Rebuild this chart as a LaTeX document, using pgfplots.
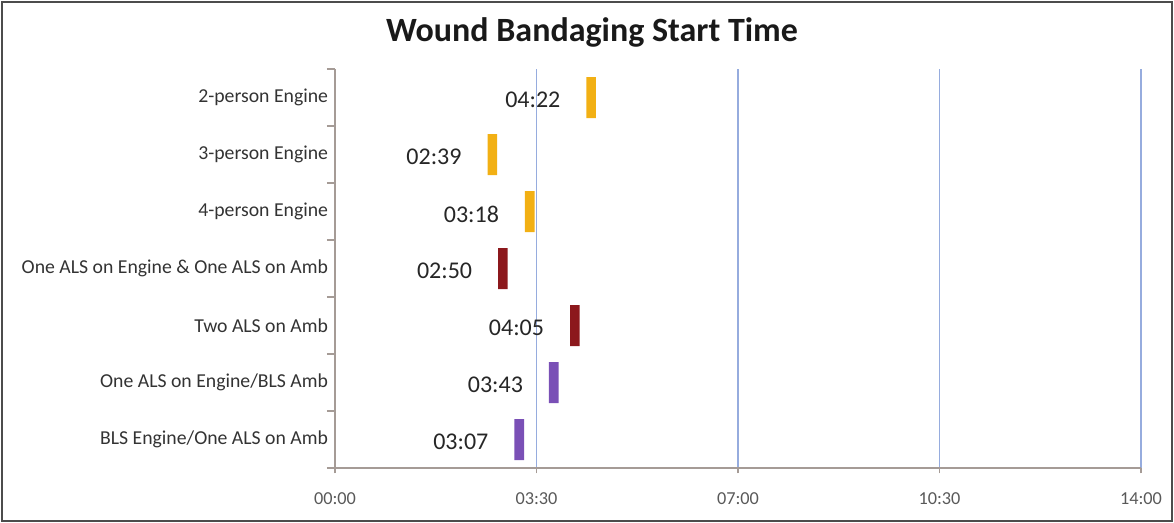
\documentclass[border=0pt]{standalone}
\usepackage{pgfplots}
\pgfplotsset{compat=1.18}
\usepackage{pgfplotstable}
\usepackage{fontspec}
\setmainfont{Carlito}

\definecolor{gold}{RGB}{242,176,20}
\definecolor{darkred}{RGB}{140,24,28}
\definecolor{purp}{RGB}{122,80,182}
\definecolor{gridblue}{RGB}{150,172,222}
\definecolor{axgray}{RGB}{165,155,150}

\pgfplotstableread{
y start lab gold red purple
7 262 04:22 10 0 0
6 159 02:39 10 0 0
5 198 03:18 10 0 0
4 170 02:50 0 10 0
3 245 04:05 0 10 0
2 223 03:43 0 0 10
1 187 03:07 0 0 10
}\datatable

\pgfplotsset{
  chartgeom/.style={
    at={(251.25pt,-351pt)}, anchor=south west,
    scale only axis, width=604.5pt, height=299.25pt,
    xmin=0, xmax=840, ymin=0.5, ymax=7.5,
  }
}

\begin{document}
\begin{tikzpicture}
\path[use as bounding box] (0pt,0pt) rectangle (880.5pt,-392.25pt);
\draw[line width=2.2pt, color=black!70] (1.5pt,-1.5pt) rectangle (879pt,-390.75pt);
\node[font=\bfseries\fontsize{25.5}{30}\selectfont, text=black!90] at (444pt,-24pt) {Wound Bandaging Start Time};
\begin{axis}[
  chartgeom,
  xbar stacked, bar width=30.75pt,
  xtick={0,210,420,630,840},
  xticklabels={00:00,03:30,07:00,10:30,14:00},
  ytick={1,...,7},
  yticklabels={BLS Engine/One ALS on Amb, One ALS on Engine/BLS Amb, Two ALS on Amb, One ALS on Engine \& One ALS on Amb, 4-person Engine, 3-person Engine, 2-person Engine},
  minor ytick={0.5,1.5,...,7.5},
  axis x line*=bottom, axis y line*=left,
  axis line style={-, axgray, line width=0.9pt},
  tick align=outside,
  major tick length=4pt, minor tick length=6pt,
  every major y tick/.append style={draw=none},
  tick style={axgray, line width=0.9pt},
  xmajorgrids, grid style={gridblue, line width=0.8pt},
  xticklabel style={font=\fontsize{13.7}{16}\selectfont, text=black!65, yshift=-11pt},
  yticklabel style={font=\fontsize{14.8}{17}\selectfont, text=black!80, inner xsep=1pt},
]
\addplot[draw=none, fill=none] table[x=start, y=y] \datatable;
\addplot[fill=gold, draw=none] table[x=gold, y=y] \datatable;
\addplot[fill=darkred, draw=none] table[x=red, y=y] \datatable;
\addplot[fill=purp, draw=none] table[x=purple, y=y] \datatable;
\end{axis}
\begin{axis}[
  chartgeom,
  axis lines=none, ticks=none,
]
\addplot[draw=none, mark=none, point meta=explicit symbolic, nodes near coords,
  every node near coord/.append style={anchor=east, xshift=-16pt, yshift=-2pt, font=\fontsize{18}{21}\selectfont, text=black!85}]
  table[x=start, y=y, meta=lab] \datatable;
\end{axis}
\end{tikzpicture}
\end{document}
